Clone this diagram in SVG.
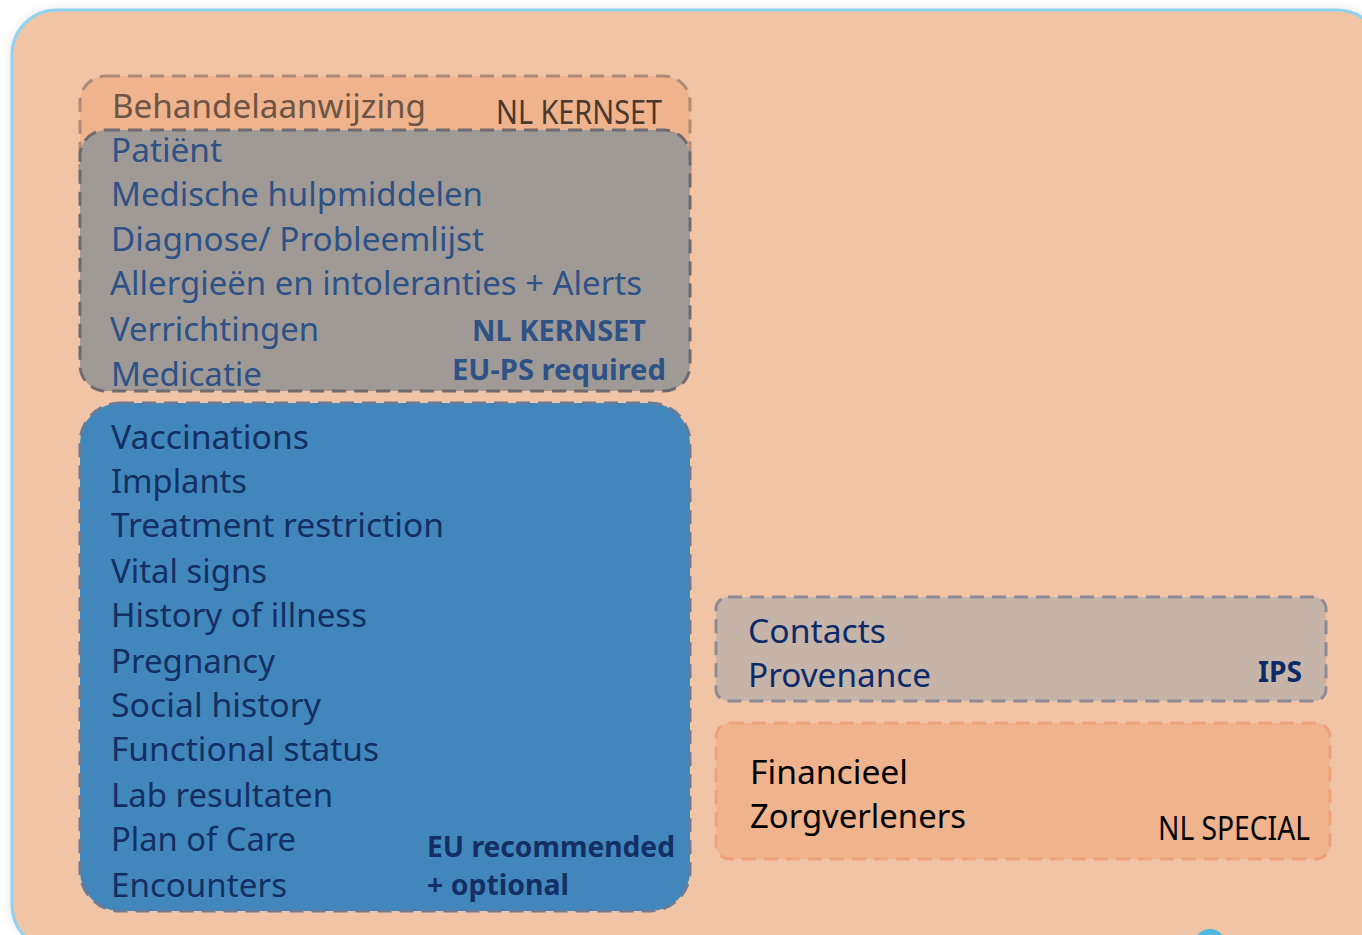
<svg xmlns="http://www.w3.org/2000/svg" width="1362" height="935" viewBox="0 0 1362 935">
<style>
text{font-family:"Noto Sans","Open Sans",sans-serif;font-size:32px}
.b{font-weight:bold;font-size:28px}
.g{fill:#2E5186}
.bl{fill:#142F63}
.c{fill:#0C2A6A}
</style>
<defs>
<filter id="sh" x="-5%" y="-5%" width="110%" height="110%"><feGaussianBlur stdDeviation="4"/></filter>
</defs>
<rect width="1362" height="935" fill="#ffffff"/>
<rect x="10" y="8" width="1374" height="944" rx="46" fill="#e8e8e8" filter="url(#sh)"/>
<g id="background">
<rect x="12" y="10" width="1370" height="940" rx="45" fill="#F2C4A6" stroke="#8FD3EE" stroke-width="3"/>
<circle cx="1210" cy="945" r="16" fill="#4DB8E0"/>
</g>
<g id="behandel">
<rect x="80" y="76" width="610" height="120" rx="26" fill="#EFB38D" stroke="#B08A78" stroke-width="3" stroke-dasharray="14 8"/>
<text x="112" y="118" fill="#6E5444" textLength="314" lengthAdjust="spacingAndGlyphs">Behandelaanwijzing</text>
<text x="496" y="124" fill="#4A382C" font-size="27" textLength="166" lengthAdjust="spacingAndGlyphs">NL KERNSET</text>
</g>
<g id="kernset">
<rect x="80" y="130" width="610" height="261" rx="26" fill="#A09A97" stroke="#6F6A6E" stroke-width="3" stroke-dasharray="14 8"/>
<text class="g" x="111" y="162" textLength="111" lengthAdjust="spacingAndGlyphs">Patiënt</text>
<text class="g" x="111" y="206" textLength="372" lengthAdjust="spacingAndGlyphs">Medische hulpmiddelen</text>
<text class="g" x="111" y="251" textLength="373" lengthAdjust="spacingAndGlyphs">Diagnose/ Probleemlijst</text>
<text class="g" x="110" y="295" textLength="532" lengthAdjust="spacingAndGlyphs">Allergieën en intoleranties + Alerts</text>
<text class="g" x="110" y="341" textLength="209" lengthAdjust="spacingAndGlyphs">Verrichtingen</text>
<text class="g" x="111" y="386" textLength="151" lengthAdjust="spacingAndGlyphs">Medicatie</text>
<text class="b g" x="472" y="341" textLength="174" lengthAdjust="spacingAndGlyphs">NL KERNSET</text>
<text class="b g" x="452" y="380" textLength="214" lengthAdjust="spacingAndGlyphs">EU-PS required</text>
</g>
<g id="eu">
<rect x="80" y="403" width="610" height="508" rx="40" fill="#4187BC" stroke="#6B7A95" stroke-width="3" stroke-dasharray="14 8"/>
<text class="bl" x="111" y="449" textLength="198" lengthAdjust="spacingAndGlyphs">Vaccinations</text>
<text class="bl" x="111" y="493" textLength="136" lengthAdjust="spacingAndGlyphs">Implants</text>
<text class="bl" x="111" y="537" textLength="333" lengthAdjust="spacingAndGlyphs">Treatment restriction</text>
<text class="bl" x="111" y="583" textLength="156" lengthAdjust="spacingAndGlyphs">Vital signs</text>
<text class="bl" x="111" y="627" textLength="256" lengthAdjust="spacingAndGlyphs">History of illness</text>
<text class="bl" x="111" y="673" textLength="164" lengthAdjust="spacingAndGlyphs">Pregnancy</text>
<text class="bl" x="111" y="717" textLength="210" lengthAdjust="spacingAndGlyphs">Social history</text>
<text class="bl" x="111" y="761" textLength="268" lengthAdjust="spacingAndGlyphs">Functional status</text>
<text class="bl" x="111" y="807" textLength="222" lengthAdjust="spacingAndGlyphs">Lab resultaten</text>
<text class="bl" x="111" y="851" textLength="185" lengthAdjust="spacingAndGlyphs">Plan of Care</text>
<text class="bl" x="111" y="897" textLength="176" lengthAdjust="spacingAndGlyphs">Encounters</text>
<text class="b bl" x="427" y="857" textLength="248" lengthAdjust="spacingAndGlyphs">EU recommended</text>
<text class="b bl" x="427" y="895" textLength="142" lengthAdjust="spacingAndGlyphs">+ optional</text>
</g>
<g id="ips">
<rect x="716" y="597" width="610" height="104" rx="12" fill="#C6B4A8" stroke="#8F8B96" stroke-width="3" stroke-dasharray="14 8"/>
<text class="c" x="748" y="643" textLength="138" lengthAdjust="spacingAndGlyphs">Contacts</text>
<text class="c" x="748" y="687" textLength="183" lengthAdjust="spacingAndGlyphs">Provenance</text>
<text class="b c" x="1258" y="682" textLength="44" lengthAdjust="spacingAndGlyphs">IPS</text>
</g>
<g id="nlspecial">
<rect x="716" y="723" width="614" height="136" rx="14" fill="#EFB38D" stroke="#EDA27A" stroke-width="3" stroke-dasharray="14 8"/>
<text x="750" y="784" fill="#000" textLength="158" lengthAdjust="spacingAndGlyphs">Financieel</text>
<text x="750" y="828" fill="#000" textLength="216" lengthAdjust="spacingAndGlyphs">Zorgverleners</text>
<text x="1158" y="840" fill="#000" font-size="27" textLength="152" lengthAdjust="spacingAndGlyphs">NL SPECIAL</text>
</g>
<g id="connectors"/>
</svg>
